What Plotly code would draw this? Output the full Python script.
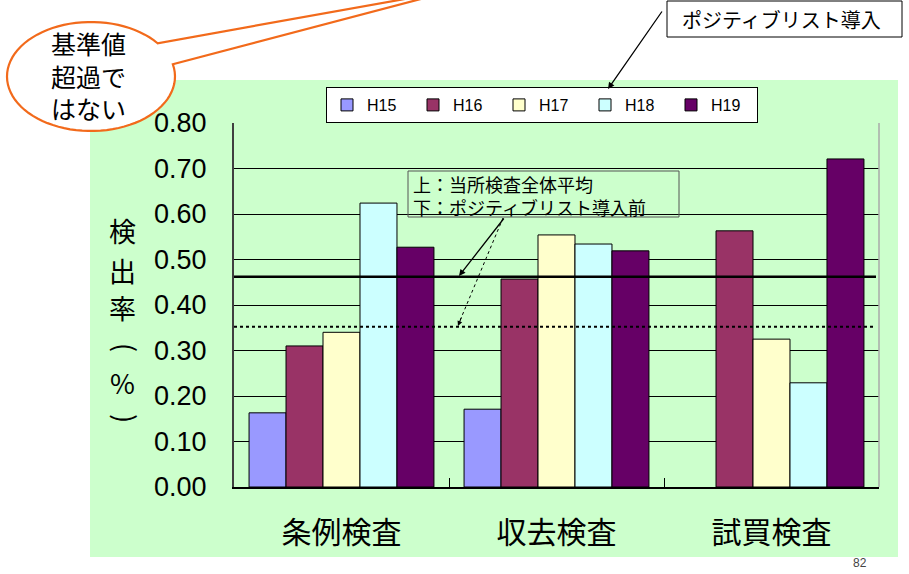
import math
import plotly.graph_objects as go

# ---------------- data ----------------
categories = ["条例検査", "収去検査", "試買検査"]
years = ["H15", "H16", "H17", "H18", "H19"]
H15 = [0.163, 0.171, None]
H16 = [0.310, 0.457, 0.563]
H17 = [0.340, 0.554, 0.325]
H18 = [0.624, 0.534, 0.229]
H19 = [0.527, 0.519, 0.721]
series_values = [H15, H16, H17, H18, H19]
colors = ["#9999FF", "#993366", "#FFFFCC", "#CCFFFF", "#660066"]
y_ticks = [0.0, 0.1, 0.2, 0.3, 0.4, 0.5, 0.6, 0.7, 0.8]
overall_avg = 0.462      # 上：当所検査全体平均
before_pl = 0.352        # 下：ポジティブリスト導入前

# ---------------- layout geometry (pixels) ----------------
WIDTH, HEIGHT = 909, 574
L, R, T, B = 234, 879, 123, 487
W, H = R - L, B - T


def px(x):
    return (x - L) / W


def py(y):
    return (B - y) / H


JP = "Noto Sans CJK JP"
NUM = "Liberation Sans, Arial, Noto Sans CJK JP"
GREEN = "#CCFFCC"

fig = go.Figure()
for name, vals, col in zip(years, series_values, colors):
    fig.add_trace(go.Bar(
        name=name, x=categories, y=vals,
        marker=dict(color=col, line=dict(color="black", width=1)),
    ))

shapes = []
# green slide panel
shapes.append(dict(type="rect", xref="paper", yref="paper", layer="below",
                   x0=px(90), x1=px(898), y0=py(557), y1=py(80),
                   fillcolor=GREEN, line=dict(width=0)))
# right plot border
shapes.append(dict(type="line", xref="paper", yref="paper", layer="above",
                   x0=1, x1=1, y0=0, y1=1, line=dict(color="#AAAAAA", width=1.5)))
# reference lines
shapes.append(dict(type="line", xref="paper", yref="y", layer="above",
                   x0=0, x1=px(876), y0=overall_avg, y1=overall_avg,
                   line=dict(color="black", width=2.5)))
shapes.append(dict(type="line", xref="paper", yref="y", layer="above",
                   x0=0, x1=px(876), y0=before_pl, y1=before_pl,
                   line=dict(color="black", width=2, dash="dot")))
# legend shadow
shapes.append(dict(type="rect", xref="paper", yref="paper", layer="above",
                   x0=px(329), x1=px(758), y0=py(120), y1=py(90),
                   fillcolor="black", line=dict(width=0)))
# box around the reference-line labels
shapes.append(dict(type="rect", xref="paper", yref="paper", layer="above",
                   x0=px(408), x1=px(679), y0=py(217), y1=py(171),
                   fillcolor="rgba(0,0,0,0)", line=dict(color="#555555", width=1)))
# dotted arrow shaft
shapes.append(dict(type="line", xref="paper", yref="paper", layer="above",
                   x0=px(503), y0=py(218), x1=px(459), y1=py(323),
                   line=dict(color="black", width=1, dash="dot")))
# top-right label box
shapes.append(dict(type="rect", xref="paper", yref="paper", layer="above",
                   x0=px(667), x1=px(902), y0=py(37), y1=py(1),
                   fillcolor="white", line=dict(color="black", width=1)))

# speech bubble (ellipse callout)
cx, cy, rx, ry = 91, 76.5, 84, 54.5
a1, a2 = math.radians(-37.6), math.radians(-13)
pts = []
n = 80
for i in range(n + 1):
    t = a1 - (2 * math.pi - (a2 - a1)) * i / n
    pts.append((cx + rx * math.cos(t), cy + ry * math.sin(t)))
pts.append((455, -10))
path = "M " + " L ".join(f"{px(x):.5f},{py(y):.5f}" for x, y in pts) + " Z"
shapes.append(dict(type="path", xref="paper", yref="paper", layer="above",
                   path=path, fillcolor="white",
                   line=dict(color="#F26A1B", width=2.2)))

annotations = []
# y-axis title, written vertically: 検出率(%)
for ch, xx, yy, ang in zip(["検", "出", "率", "(", "%", ")"],
                           [123, 123, 123, 127, 123, 127],
                           [230, 270, 307, 348, 382, 419],
                           [0, 0, 0, 90, 0, 90]):
    annotations.append(dict(xref="paper", yref="paper", x=px(xx), y=py(yy),
                            text=ch, showarrow=False, xanchor="center", yanchor="middle",
                            textangle=ang,
                            font=dict(family=JP, size=27, color="black")))
# bubble text
annotations.append(dict(xref="paper", yref="paper", x=px(88), y=py(75),
                        text="基準値<br>超過で<br>はない", showarrow=False,
                        xanchor="center", yanchor="middle", align="left",
                        font=dict(family=JP, size=25, color="black")))
# reference line labels
annotations.append(dict(xref="paper", yref="paper", x=px(411), y=py(195),
                        text="上：当所検査全体平均<br>下：ポジティブリスト導入前",
                        showarrow=False, xanchor="left", yanchor="middle", align="left",
                        font=dict(family=JP, size=18, color="black")))
# solid arrow to average line
annotations.append(dict(xref="paper", yref="paper", x=px(459), y=py(276), text="",
                        showarrow=True, axref="pixel", ayref="pixel", ax=46, ay=-59,
                        arrowhead=2, arrowsize=1, arrowwidth=1.3, arrowcolor="black"))
# dotted arrow head
annotations.append(dict(xref="paper", yref="paper", x=px(458), y=py(326), text="",
                        showarrow=True, axref="pixel", ayref="pixel", ax=4, ay=-10,
                        arrowhead=2, arrowsize=1, arrowwidth=1, arrowcolor="black"))
# top-right label
annotations.append(dict(xref="paper", yref="paper", x=px(781), y=py(20),
                        text="ポジティブリスト導入", showarrow=False,
                        xanchor="center", yanchor="middle",
                        font=dict(family=JP, size=20, color="black")))
annotations.append(dict(xref="paper", yref="paper", x=px(608), y=py(89), text="",
                        showarrow=True, axref="pixel", ayref="pixel", ax=55, ay=-79,
                        arrowhead=2, arrowsize=1, arrowwidth=1.3, arrowcolor="black"))
# page number fragment
annotations.append(dict(xref="paper", yref="paper", x=px(860), y=py(563), text="82",
                        showarrow=False, xanchor="center", yanchor="middle",
                        font=dict(family=NUM, size=12, color="#444444")))

fig.update_layout(
    width=WIDTH, height=HEIGHT, autosize=False,
    margin=dict(l=L, r=WIDTH - R, t=T, b=HEIGHT - B, pad=0),
    paper_bgcolor="white", plot_bgcolor=GREEN,
    barmode="group", bargap=0.14, bargroupgap=0,
    showlegend=True,
    legend=dict(orientation="h", x=px(326), y=py(87), xanchor="left", yanchor="top",
                bgcolor="white", bordercolor="black", borderwidth=1,
                font=dict(family=NUM, size=16, color="black"),
                entrywidth=41, entrywidthmode="pixels", itemwidth=30,
                traceorder="normal"),
    xaxis=dict(showgrid=False, showline=True, linecolor="black", linewidth=2,
               ticks="inside", tickson="boundaries", ticklen=9, tickcolor="black",
               tickfont=dict(family=JP, size=30, color="black"),
               ticklabelstandoff=18, fixedrange=True),
    yaxis=dict(range=[0, 0.8], tickvals=y_ticks, tickformat=".2f",
               showgrid=True, gridcolor="black", gridwidth=1,
               showline=True, linecolor="#404040", linewidth=2,
               zeroline=False, ticks="",
               tickfont=dict(family=NUM, size=27, color="black"),
               ticklabelstandoff=20, fixedrange=True),
    shapes=shapes,
    annotations=annotations,
)

fig.write_html("out.html")
